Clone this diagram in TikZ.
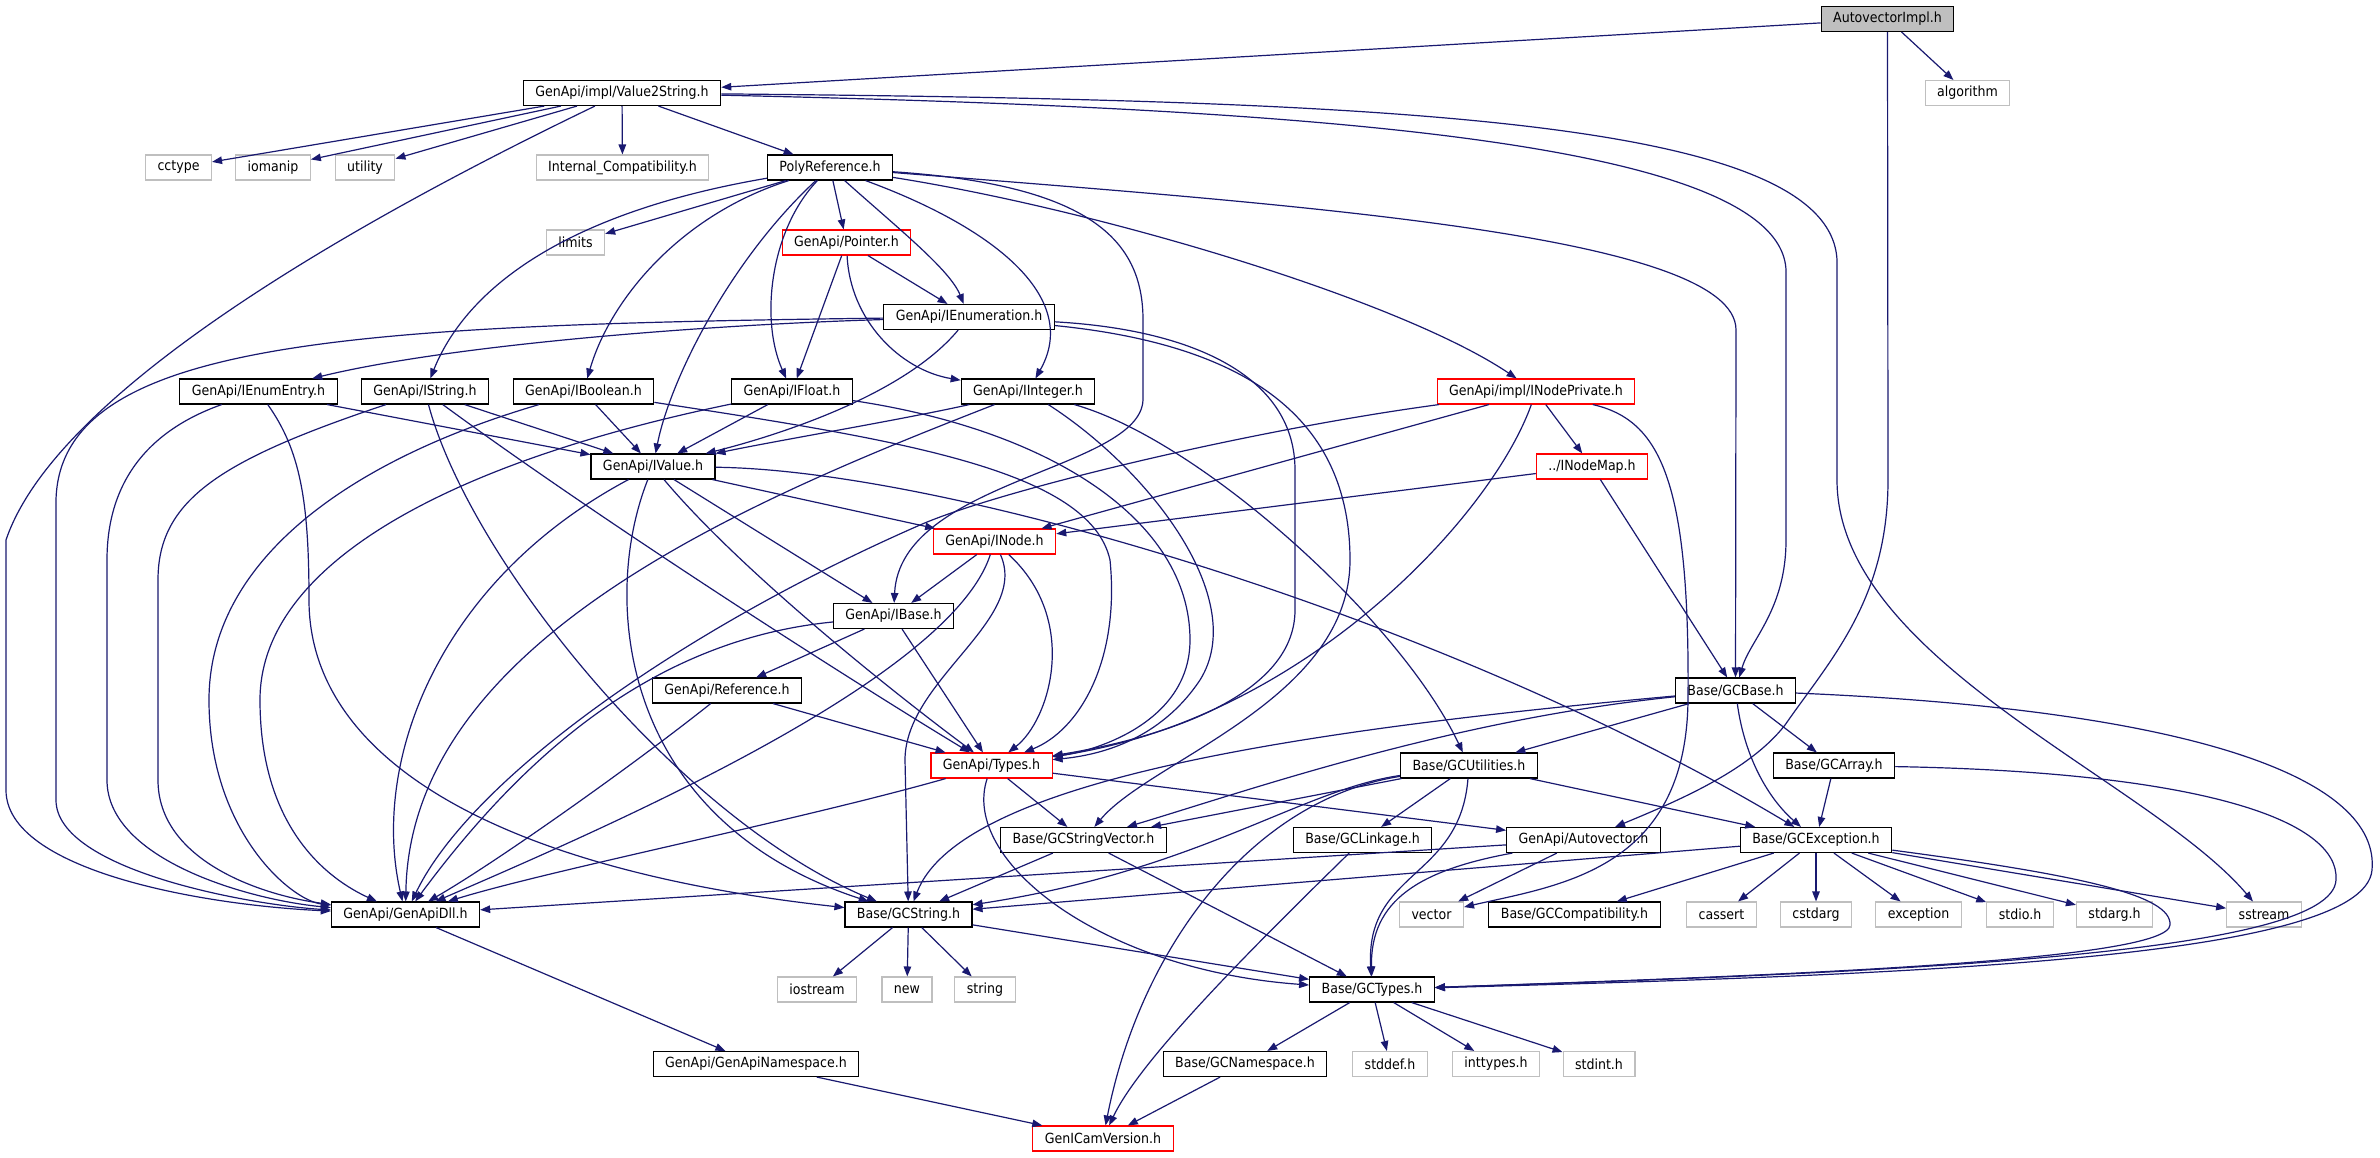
\documentclass[tikz,border=0pt]{standalone}
\usepackage{fontspec}
\setmainfont{DejaVu Sans Condensed}
\usepackage{tikz}
\usetikzlibrary{arrows.meta}
\definecolor{edgeblue}{RGB}{25,25,112}
\definecolor{sysgray}{RGB}{191,191,191}

\begin{document}
\begin{tikzpicture}[
  x=1pt, y=-1pt,
  font=\fontsize{14}{16}\selectfont,
  box/.style={rectangle, draw=black, line width=1.1pt, fill=white, minimum height=25pt, inner xsep=12pt, inner ysep=2pt},
  sys/.style={box, draw=sysgray},
  trunc/.style={box, draw=red},
  root/.style={box, fill=sysgray},
  arr/.style={-{Triangle[length=10pt,width=7.5pt]}, edgeblue, line width=1.2pt}
]
\fill[white] (0,0) rectangle (2380,1157);
\useasboundingbox (0,0) rectangle (2380,1157);

\node[root] (autoimpl) at (1887.5,19) {AutovectorImpl.h};
\node[box] (valstr) at (622,93) {GenApi/impl/Value2String.h};
\node[sys] (algorithm) at (1967.5,93) {algorithm};
\node[sys] (cctype) at (178.5,167.5) {cctype};
\node[sys] (iomanip) at (273,167.5) {iomanip};
\node[sys] (utility) at (365,167.5) {utility};
\node[sys] (intcompat) at (622.5,167.5) {Internal\_Compatibility.h};
\node[box] (polyref) at (830,167.5) {PolyReference.h};
\node[sys] (limits) at (575.5,242.5) {limits};
\node[trunc] (pointer) at (846.5,242.5) {GenApi/Pointer.h};
\node[box] (ienum) at (969,317) {GenApi/IEnumeration.h};
\node[box] (ienumentry) at (258.5,391.5) {GenApi/IEnumEntry.h};
\node[box] (istring) at (425,391.5) {GenApi/IString.h};
\node[box] (ibool) at (583.5,391.5) {GenApi/IBoolean.h};
\node[box] (ifloat) at (792,391.5) {GenApi/IFloat.h};
\node[box] (iint) at (1028,391.5) {GenApi/IInteger.h};
\node[trunc] (inodepriv) at (1536,391.5) {GenApi/impl/INodePrivate.h};
\node[box] (ivalue) at (653,466.5) {GenApi/IValue.h};
\node[trunc] (inodemap) at (1592,466.5) {../INodeMap.h};
\node[trunc] (inode) at (994.5,541.5) {GenApi/INode.h};
\node[box] (ibase) at (893.5,616) {GenApi/IBase.h};
\node[box] (reference) at (727,690.5) {GenApi/Reference.h};
\node[box] (gcbase) at (1735.5,690.5) {Base/GCBase.h};
\node[trunc] (types) at (991.5,765.5) {GenApi/Types.h};
\node[box] (gcutil) at (1469,765.5) {Base/GCUtilities.h};
\node[box] (gcarray) at (1834,765.5) {Base/GCArray.h};
\node[box] (gcstrvec) at (1083.5,840) {Base/GCStringVector.h};
\node[box] (gclinkage) at (1362.5,840) {Base/GCLinkage.h};
\node[box] (autovec) at (1583.5,840) {GenApi/Autovector.h};
\node[box] (gcexcept) at (1816,840) {Base/GCException.h};
\node[box] (apidll) at (405.5,914.5) {GenApi/GenApiDll.h};
\node[box] (gcstring) at (908.5,914.5) {Base/GCString.h};
\node[sys] (vector) at (1431.5,914.5) {vector};
\node[box] (gccompat) at (1574.5,914.5) {Base/GCCompatibility.h};
\node[sys] (cassert) at (1721.5,914.5) {cassert};
\node[sys] (cstdarg) at (1816,914.5) {cstdarg};
\node[sys] (exception) at (1918.5,914.5) {exception};
\node[sys] (stdio) at (2020,914.5) {stdio.h};
\node[sys] (stdarg) at (2114.5,914.5) {stdarg.h};
\node[sys] (sstream) at (2264,914.5) {sstream};
\node[sys] (iostream) at (817,989.5) {iostream};
\node[sys] (new) at (907,989.5) {new};
\node[sys] (string) at (985,989.5) {string};
\node[box] (gctypes) at (1372,989.5) {Base/GCTypes.h};
\node[box] (apins) at (756,1064) {GenApi/GenApiNamespace.h};
\node[box] (gcns) at (1245,1064) {Base/GCNamespace.h};
\node[sys] (stddef) at (1390,1064) {stddef.h};
\node[sys] (inttypes) at (1496,1064) {inttypes.h};
\node[sys] (stdint) at (1599,1064) {stdint.h};
\node[trunc] (genicam) at (1103,1138.5) {GenICamVersion.h};

% AutovectorImpl.h
\draw[arr] (autoimpl) -- (valstr);
\draw[arr] (autoimpl) -- (algorithm);
\draw[arr] (autoimpl.south) -- (1888,480) .. controls (1888,600) and (1830,660) .. (1785,725) .. controls (1750,770) and (1680,800) .. (autovec);

% Value2String.h
\draw[arr] (valstr) -- (cctype);
\draw[arr] (valstr) -- (iomanip);
\draw[arr] (valstr) -- (utility);
\draw[arr] (valstr) -- (intcompat);
\draw[arr] (valstr) -- (polyref);
\draw[arr] (valstr) .. controls (400,200) and (60,380) .. (6,540) -- (6,790) .. controls (6,870) and (200,905) .. (apidll);
\draw[arr] (valstr) .. controls (1300,108) and (1780,140) .. (1786,270) -- (1786,540) .. controls (1786,610) and (1750,640) .. (gcbase);
\draw[arr] (valstr) .. controls (1400,100) and (1830,120) .. (1837,260) -- (1837,480) .. controls (1837,660) and (2150,780) .. (sstream);

% PolyReference.h
\draw[arr] (polyref) -- (limits);
\draw[arr] (polyref) -- (pointer);
\draw[arr] (polyref) .. controls (900,230) and (950,270) .. (ienum);
\draw[arr] (polyref) .. controls (1000,230) and (1080,300) .. (iint);
\draw[arr] (polyref) .. controls (770,230) and (760,320) .. (ifloat);
\draw[arr] (polyref) .. controls (580,210) and (470,280) .. (istring);
\draw[arr] (polyref) .. controls (680,215) and (610,300) .. (ibool);
\draw[arr] (polyref) .. controls (730,260) and (670,380) .. (ivalue);
\draw[arr] (polyref) .. controls (1090,185) and (1143,240) .. (1143,320) -- (1143,400) .. controls (1140,470) and (900,480) .. (ibase);
\draw[arr] (polyref) .. controls (1100,210) and (1400,300) .. (inodepriv);
\draw[arr] (polyref) .. controls (1300,205) and (1736,235) .. (1736,330) -- (gcbase);

% Pointer.h
\draw[arr] (pointer) -- (ienum);
\draw[arr] (pointer) -- (ifloat);
\draw[arr] (pointer) .. controls (850,320) and (900,370) .. (iint);

% IEnumeration.h
\draw[arr] (ienum) .. controls (700,325) and (450,345) .. (ienumentry);
\draw[arr] (ienum) .. controls (350,325) and (60,340) .. (56,500) -- (56,800) .. controls (56,870) and (250,905) .. (apidll);
\draw[arr] (ienum) .. controls (900,400) and (760,440) .. (ivalue);
\draw[arr] (ienum) .. controls (1200,330) and (1295,380) .. (1295,470) -- (1295,610) .. controls (1295,700) and (1150,740) .. (types);
\draw[arr] (ienum) .. controls (1250,345) and (1350,420) .. (1350,560) .. controls (1350,700) and (1150,760) .. (gcstrvec);

% IEnumEntry.h
\draw[arr] (ienumentry) .. controls (150,430) and (107,480) .. (107,560) -- (107,780) .. controls (107,860) and (250,900) .. (apidll);
\draw[arr] (ienumentry) .. controls (300,450) and (309,500) .. (309,600) .. controls (309,760) and (500,870) .. (gcstring);
\draw[arr] (ienumentry) -- (ivalue);

% IString.h
\draw[arr] (istring) .. controls (220,460) and (158,500) .. (158,580) -- (158,780) .. controls (158,860) and (260,895) .. (apidll);
\draw[arr] (istring) .. controls (470,560) and (680,820) .. (gcstring);
\draw[arr] (istring) -- (ivalue);
\draw[arr] (istring) .. controls (600,520) and (850,680) .. (types);

% IBoolean.h
\draw[arr] (ibool) .. controls (350,460) and (209,560) .. (209,700) .. controls (209,830) and (290,900) .. (apidll);
\draw[arr] (ibool) -- (ivalue);
\draw[arr] (ibool) .. controls (900,440) and (1090,470) .. (1110,560) .. controls (1120,660) and (1080,730) .. (types);

% IFloat.h
\draw[arr] (ifloat) .. controls (460,460) and (260,560) .. (260,700) .. controls (260,830) and (330,880) .. (apidll);
\draw[arr] (ifloat) -- (ivalue);
\draw[arr] (ifloat) .. controls (1050,430) and (1190,520) .. (1190,640) .. controls (1190,720) and (1100,750) .. (types);

% IInteger.h
\draw[arr] (iint) .. controls (750,500) and (410,640) .. (apidll);
\draw[arr] (iint) .. controls (900,420) and (780,440) .. (ivalue);
\draw[arr] (iint) .. controls (1150,470) and (1250,600) .. (1200,680) .. controls (1160,740) and (1100,755) .. (types);
\draw[arr] (iint) .. controls (1200,440) and (1400,620) .. (gcutil);

% INodePrivate.h
\draw[arr] (inodepriv) -- (inode);
\draw[arr] (inodepriv) -- (inodemap);
\draw[arr] (inodepriv) .. controls (1490,520) and (1300,720) .. (types);
\draw[arr] (inodepriv) .. controls (1250,430) and (1000,490) .. (920,525) .. controls (680,630) and (470,780) .. (apidll);
\draw[arr] (inodepriv) .. controls (1660,420) and (1690,480) .. (1688,700) .. controls (1686,870) and (1560,885) .. (vector);

% INodeMap.h
\draw[arr] (inodemap) -- (inode);
\draw[arr] (inodemap) -- (gcbase);

% IValue.h
\draw[arr] (ivalue) -- (ibase);
\draw[arr] (ivalue) -- (inode);
\draw[arr] (ivalue) .. controls (740,570) and (890,690) .. (types);
\draw[arr] (ivalue) .. controls (600,600) and (620,820) .. (gcstring);
\draw[arr] (ivalue) .. controls (440,580) and (370,760) .. (apidll);
\draw[arr] (ivalue) .. controls (950,470) and (1450,620) .. (gcexcept);

% INode.h
\draw[arr] (inode) -- (ibase);
\draw[arr] (inode) .. controls (1080,620) and (1050,720) .. (types);
\draw[arr] (inode) .. controls (950,680) and (600,830) .. (apidll);
\draw[arr] (inode) .. controls (1030,620) and (905,680) .. (905,760) -- (gcstring);

% IBase.h
\draw[arr] (ibase) -- (reference);
\draw[arr] (ibase) -- (types);
\draw[arr] (ibase) .. controls (650,640) and (520,760) .. (apidll);

% Reference.h
\draw[arr] (reference) -- (types);
\draw[arr] (reference) .. controls (640,760) and (500,860) .. (apidll);

% Types.h
\draw[arr] (types) .. controls (800,820) and (550,870) .. (apidll);
\draw[arr] (types) -- (gcstrvec);
\draw[arr] (types) -- (autovec);
\draw[arr] (types) .. controls (960,860) and (1100,970) .. (gctypes);

% GCBase.h
\draw[arr] (gcbase) -- (gcutil);
\draw[arr] (gcbase) .. controls (1450,720) and (1250,790) .. (gcstrvec);
\draw[arr] (gcbase) .. controls (1300,730) and (960,780) .. (gcstring);
\draw[arr] (gcbase) .. controls (1745,760) and (1770,800) .. (gcexcept);
\draw[arr] (gcbase) -- (gcarray);
\draw[arr] (gcbase) .. controls (2200,710) and (2380,780) .. (2372,870) .. controls (2364,960) and (1900,975) .. (gctypes);

% GCArray.h
\draw[arr] (gcarray) -- (gcexcept);
\draw[arr] (gcarray) .. controls (2200,772) and (2340,820) .. (2336,880) .. controls (2332,955) and (1900,972) .. (gctypes);

% GCUtilities.h
\draw[arr] (gcutil) -- (gcstrvec);
\draw[arr] (gcutil) .. controls (1300,790) and (1200,870) .. (gcstring);
\draw[arr] (gcutil) -- (gclinkage);
\draw[arr] (gcutil) .. controls (1250,800) and (1140,950) .. (genicam);
\draw[arr] (gcutil) .. controls (1460,880) and (1365,870) .. (gctypes);
\draw[arr] (gcutil) -- (gcexcept);

% GCStringVector.h
\draw[arr] (gcstrvec) -- (gcstring);
\draw[arr] (gcstrvec) -- (gctypes);

% GCLinkage.h
\draw[arr] (gclinkage) .. controls (1250,950) and (1140,1060) .. (genicam);

% Autovector.h
\draw[arr] (autovec) -- (apidll);
\draw[arr] (autovec) -- (vector);
\draw[arr] (autovec) .. controls (1420,870) and (1370,900) .. (gctypes);

% GCException.h
\draw[arr] (gcexcept) -- (gcstring);
\draw[arr] (gcexcept) -- (gccompat);
\draw[arr] (gcexcept) -- (cassert);
\draw[arr] (gcexcept) -- (cstdarg);
\draw[arr] (gcexcept) -- (exception);
\draw[arr] (gcexcept) -- (stdio);
\draw[arr] (gcexcept) -- (stdarg);
\draw[arr] (gcexcept) -- (sstream);
\draw[arr] (gcexcept) .. controls (2080,875) and (2172,895) .. (2170,925) .. controls (2168,960) and (1800,975) .. (gctypes);

% GCString.h
\draw[arr] (gcstring) -- (iostream);
\draw[arr] (gcstring) -- (new);
\draw[arr] (gcstring) -- (string);
\draw[arr] (gcstring) -- (gctypes);

% GCTypes.h
\draw[arr] (gctypes) -- (gcns);
\draw[arr] (gctypes) -- (stddef);
\draw[arr] (gctypes) -- (inttypes);
\draw[arr] (gctypes) -- (stdint);

\draw[arr] (gcns) -- (genicam);
\draw[arr] (apins) -- (genicam);
\draw[arr] (apidll) -- (apins);
\end{tikzpicture}
\end{document}
